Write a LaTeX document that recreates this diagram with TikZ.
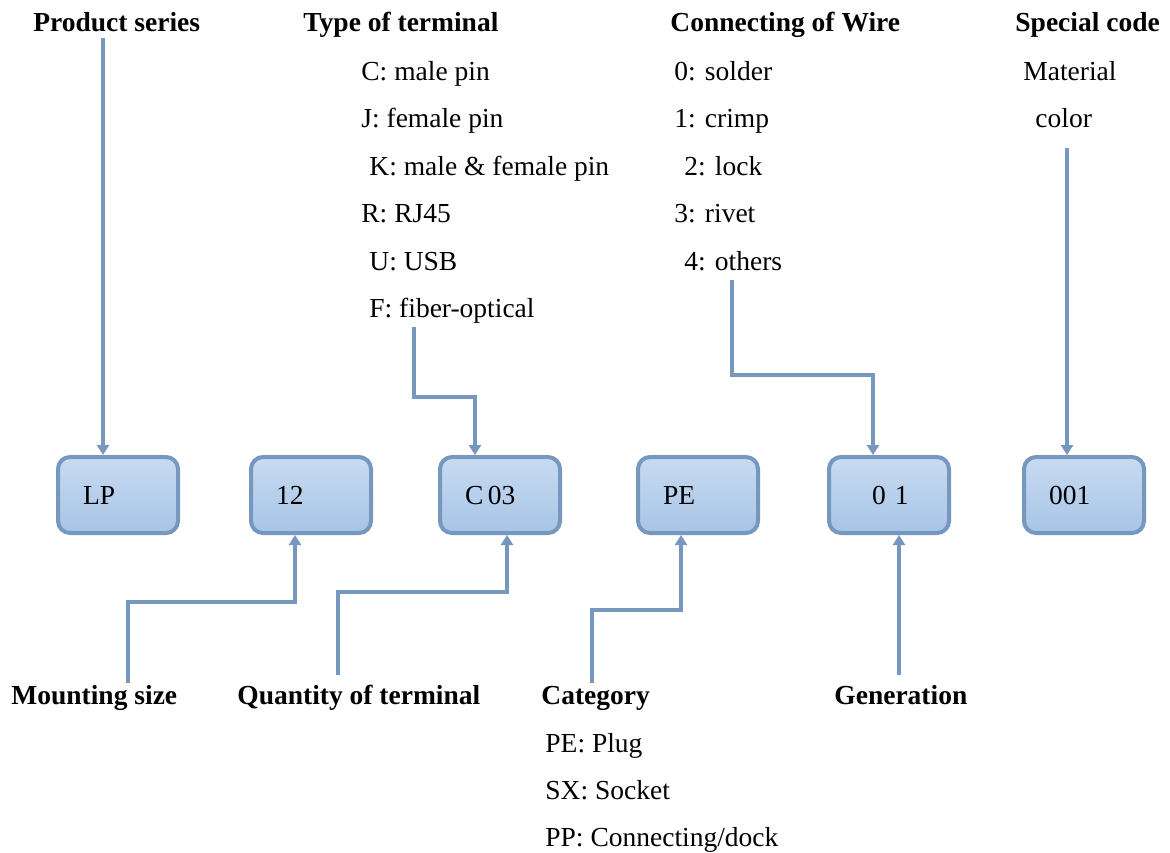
\documentclass[tikz,border=0pt]{standalone}
\usepackage{fontspec}
\setmainfont{Liberation Serif}
\usetikzlibrary{arrows.meta}
\definecolor{LinkBlue}{RGB}{119,152,190}
\definecolor{BoxTop}{RGB}{200,219,241}
\definecolor{BoxBottom}{RGB}{167,196,230}
\tikzset{
txt/.style={anchor=base west, inner sep=0pt, font=\fontsize{13.75}{16}\selectfont},
ttl/.style={anchor=base west, inner sep=0pt, font=\fontsize{13.75}{16}\selectfont\bfseries},
codebox/.style={draw=LinkBlue, line width=2pt, rounded corners=6pt, top color=BoxTop, bottom color=BoxBottom, minimum height=38pt, text width=35pt, inner xsep=12.5pt, align=left, font=\fontsize{13.75}{16}\selectfont},
conn/.style={draw=LinkBlue, line width=2pt, -{Triangle[width=6pt,length=5pt]}}
}

\begin{document}
\begin{tikzpicture}[x=0.5pt,y=-0.5pt]
\useasboundingbox (0,0) rectangle (1170,852);

%%Code boxes
\node[codebox] (lp) at (118,495) {LP};
\node[codebox] (size) at (311,495) {12};
\node[codebox] (term) at (500,495) {C\,03};
\node[codebox] (cat) at (698,495) {PE};
\node[codebox] (gen) at (889,495) {\hspace*{9pt}0 1};
\node[codebox] (spec) at (1084,495) {001};

%%Top labels
\node[ttl] (series) at (33,31) {Product series};
\node[ttl] (type) at (303,31) {Type of terminal};
\node[ttl] (wire) at (670,31) {Connecting of Wire};
\node[ttl] (special) at (1015,31) {Special code};
\foreach \i/\x/\txt in {0/361/C: male pin, 1/361/J: female pin, 2/369/K: male \& female pin, 3/361/R: RJ45, 4/369/U: USB, 5/369/F: fiber-optical}{
\node[txt] (t\i) at (\x,80+47.5*\i) {\txt};
}
\foreach \i/\x/\txt in {0/674/0: solder, 1/674/1: crimp, 2/684/2: lock, 3/674/3: rivet, 4/684/4: others}{
\node[txt] (w\i) at (\x,80+47.5*\i) {\txt};
}
\node[txt] (material) at (1023,80) {Material};
\node[txt] (color) at (1035,127) {color};

%%Bottom labels
\node[ttl] (mount) at (11,704) {Mounting size};
\node[ttl] (quant) at (237,704) {Quantity of terminal};
\node[ttl] (category) at (541,704) {Category};
\node[ttl] (generation) at (834,704) {Generation};
\node[txt] (c0) at (545,752) {PE: Plug};
\node[txt] (c1) at (545,799) {SX: Socket};
\node[txt] (c2) at (545,846) {PP: Connecting/dock};

%%Connectors from above
\coordinate (seriesend) at (103,38);
\draw[conn] (seriesend) -- (seriesend |- lp.north);
\coordinate (fiberend) at (414,327);
\coordinate (fiberbend) at (475,397);
\draw[conn] (fiberend) |- (fiberbend) -- (fiberbend |- term.north);
\coordinate (othersend) at (732,280);
\coordinate (othersbend) at (873,375);
\draw[conn] (othersend) |- (othersbend) -- (othersbend |- gen.north);
\coordinate (colorend) at (1067,148);
\draw[conn] (colorend) -- (colorend |- spec.north);

%%Connectors from below
\coordinate (mountend) at (128,683);
\coordinate (mountbend) at (295,602);
\draw[conn] (mountend) |- (mountbend) -- (mountbend |- size.south);
\coordinate (quantend) at (338,675);
\coordinate (quantbend) at (507,592);
\draw[conn] (quantend) |- (quantbend) -- (quantbend |- term.south);
\coordinate (catend) at (592,683);
\coordinate (catbend) at (681,610);
\draw[conn] (catend) |- (catbend) -- (catbend |- cat.south);
\coordinate (genend) at (899,675);
\draw[conn] (genend) -- (genend |- gen.south);
\end{tikzpicture}
\end{document}
